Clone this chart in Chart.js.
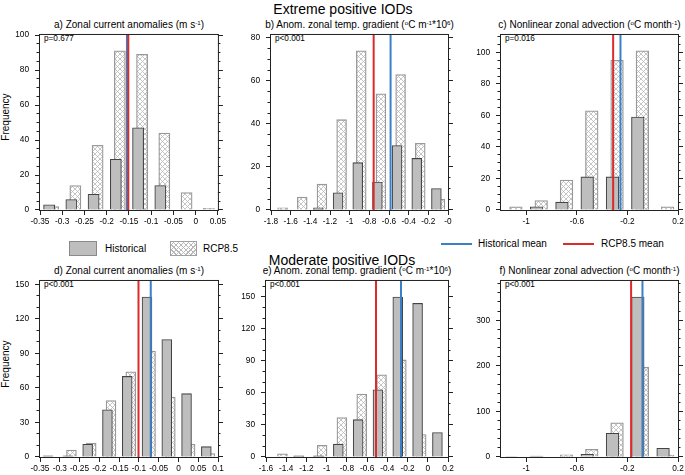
<!DOCTYPE html>
<html><head><meta charset="utf-8">
<script src="https://cdn.jsdelivr.net/npm/chart.js@4.4.0/dist/chart.umd.min.js"></script>
<style>
body{margin:0;background:#fff;width:685px;height:475px;position:relative;overflow:hidden;font-family:"Liberation Sans",Arial,Helvetica,sans-serif;color:#000}
.abs{position:absolute;white-space:nowrap}
canvas{position:absolute}
sup{font-size:0.62em;line-height:0;vertical-align:0.55em}
.ttl{font-size:10px;line-height:12px;text-align:center}
.pv{font-size:8.2px;line-height:10px}
.leg{font-size:10px;line-height:12px}
.big{font-size:14px;line-height:16px;text-align:center;width:300px}
.freq{font-size:10px;line-height:10px;width:80px;text-align:center;transform:rotate(-90deg)}
.hatchbox{background-color:#fff;background-image:repeating-linear-gradient(45deg,#b8b8b8 0 0.8px,transparent 0.8px 3.5px),repeating-linear-gradient(-45deg,#b8b8b8 0 0.8px,transparent 0.8px 3.5px);border:1px solid #a0a0a0;box-sizing:border-box}
</style></head><body>

<div class="abs big" style="left:193px;top:0.5px">Extreme positive IODs</div>
<div class="abs big" style="left:192px;top:252px">Moderate positive IODs</div>

<div class="abs" style="left:69px;top:241px;width:28px;height:15px;background:#bebebe;border:1px solid #8a8a8a;box-sizing:border-box"></div>
<div class="abs leg" style="left:105px;top:242.5px">Historical</div>
<div class="abs hatchbox" style="left:170px;top:241px;width:27px;height:15px"></div>
<div class="abs leg" style="left:203px;top:242.5px">RCP8.5</div>
<div class="abs" style="left:441px;top:243px;width:31px;height:2px;background:#3a80c8"></div>
<div class="abs leg" style="left:478px;top:237.5px">Historical mean</div>
<div class="abs" style="left:563px;top:243px;width:31px;height:2px;background:#dd2a2a"></div>
<div class="abs leg" style="left:601px;top:237.5px">RCP8.5 mean</div>

<div id="labels"></div>

<script>
// ---------- data ----------
// a) Zonal current anomalies, extreme pIOD
const binsA = [-0.325, -0.275, -0.225, -0.175, -0.125, -0.075, -0.025, 0.025];
const histA = [3, 6, 9, 29, 47, 14, 0, 0];
const rcpA  = [2, 14, 37, 91, 89, 44, 10, 1];
const meanHistA = -0.1545, meanRcpA = -0.1515;
const xTickLabelsA = ['-0.35','-0.3','-0.25','-0.2','-0.15','-0.1','-0.05','0','0.05'];
const yTicksA = [0, 20, 40, 60, 80, 100];

// b) Anom. zonal temp. gradient, extreme pIOD
const binsB = [-1.7, -1.5, -1.3, -1.1, -0.9, -0.7, -0.5, -0.3, -0.1];
const histB = [0, 0, 1, 8, 22, 13, 30, 24, 10];
const rcpB  = [1, 6, 12, 42, 74, 54, 63, 31, 5];
const meanHistB = -0.584, meanRcpB = -0.756;
const xTickLabelsB = ['-1.8','-1.6','-1.4','-1.2','-1','-0.8','-0.6','-0.4','-0.2','-0'];
const yTicksB = [0, 20, 40, 60, 80];

// c) Nonlinear zonal advection, extreme pIOD
const binsC = [-1.1, -0.9, -0.7, -0.5, -0.3, -0.1, 0.1];
const histC = [0, 2, 5, 21, 21, 59, 0];
const rcpC  = [2, 6, 19, 63, 95, 101, 2];
const meanHistC = -0.255, meanRcpC = -0.313;
const xTickLabelsC = ['-1','-0.6','-0.2','0.2'];
const yTicksC = [0, 20, 40, 60, 80, 100];

// d) Zonal current anomalies, moderate pIOD
const binsD = [-0.325, -0.275, -0.225, -0.175, -0.125, -0.075, -0.025, 0.025, 0.075];
const histD = [1, 1, 11, 41, 70, 139, 102, 55, 9];
const rcpD  = [0, 6, 12, 49, 74, 92, 52, 11, 3];
const meanHistD = -0.070, meanRcpD = -0.101;
const xTickLabelsD = ['-0.35','-0.3','-0.25','-0.2','-0.15','-0.1','-0.05','0','0.05','0.1'];
const yTicksD = [0, 30, 60, 90, 120, 150];

// e) Anom. zonal temp. gradient, moderate pIOD
const binsE = [-1.455, -1.259, -1.063, -0.867, -0.671, -0.475, -0.279, -0.083, 0.113];
const histE = [0, 1, 1, 12, 35, 63, 150, 144, 23];
const rcpE  = [3, 0, 11, 37, 59, 77, 91, 21, 0];
const meanHistE = -0.265, meanRcpE = -0.512;
const xTickLabelsE = ['-1.6','-1.4','-1.2','-1','-0.8','-0.6','-0.4','-0.2','0','0.2'];
const yTicksE = [0, 30, 60, 90, 120, 150];

// f) Nonlinear zonal advection, moderate pIOD
const binsF = [-1.1, -0.9, -0.7, -0.5, -0.3, -0.1, 0.1];
const histF = [1, 2, 0, 6, 52, 351, 19];
const rcpF  = [0, 0, 5, 17, 75, 197, 4];
const meanHistF = -0.081, meanRcpF = -0.171;
const xTickLabelsF = ['-1','-0.6','-0.2','0.2'];
const yTicksF = [0, 100, 200, 300];

// ---------- layout / style ----------
const BLUE = '#3a80c8', RED = '#dd2a2a';
const FONT = '"Liberation Sans", Arial, sans-serif';
const TICKFONT = 8.3;

const panels = [
  {box:[40,32,218,210],  xr:[-0.35,0.05], bin:0.05, bins:binsA, hist:histA, rcp:rcpA, mH:meanHistA, mR:meanRcpA, xl:xTickLabelsA, yt:yTicksA, minor:5,
   p:'p=0.677', title:'a) Zonal current anomalies (m s<sup>-1</sup>)', freq:true},
  {box:[271,32,448,210], xr:[-1.8,0], bin:0.2, bins:binsB, hist:histB, rcp:rcpB, mH:meanHistB, mR:meanRcpB, xl:xTickLabelsB, yt:yTicksB, minor:5,
   p:'p&lt;0.001', title:'b) Anom. zonal temp. gradient (<sup>o</sup>C m<sup>-1</sup>*10<sup>6</sup>)'},
  {box:[501,32,678,210], xr:[-1.2,0.2], bin:0.2, bins:binsC, hist:histC, rcp:rcpC, mH:meanHistC, mR:meanRcpC, xl:xTickLabelsC, yt:yTicksC, minor:5,
   p:'p=0.016', title:'c) Nonlinear zonal advection (<sup>o</sup>C month<sup>-1</sup>)'},
  {box:[40,278,218,457], xr:[-0.35,0.1], bin:0.05, bins:binsD, hist:histD, rcp:rcpD, mH:meanHistD, mR:meanRcpD, xl:xTickLabelsD, yt:yTicksD, minor:10,
   p:'p&lt;0.001', title:'d) Zonal current anomalies (m s<sup>-1</sup>)', freq:true},
  {box:[266,278,448,457], xr:[-1.6,0.2], bin:0.196, bins:binsE, hist:histE, rcp:rcpE, mH:meanHistE, mR:meanRcpE, xl:xTickLabelsE, yt:yTicksE, minor:10,
   p:'p&lt;0.001', title:'e) Anom. zonal temp. gradient (<sup>o</sup>C m<sup>-1</sup>*10<sup>6</sup>)'},
  {box:[501,278,678,457], xr:[-1.2,0.2], bin:0.2, bins:binsF, hist:histF, rcp:rcpF, mH:meanHistF, mR:meanRcpF, xl:xTickLabelsF, yt:yTicksF, minor:20,
   p:'p&lt;0.001', title:'f) Nonlinear zonal advection (<sup>o</sup>C month<sup>-1</sup>)'}
];

function makeHatch(){
  const t = document.createElement('canvas'); t.width = t.height = 5;
  const g = t.getContext('2d');
  g.fillStyle = '#fff'; g.fillRect(0,0,5,5);
  g.strokeStyle = '#b8b8b8'; g.lineWidth = 0.8;
  g.beginPath();
  g.moveTo(-1,-1); g.lineTo(6,6);
  g.moveTo(6,-1); g.lineTo(-1,6);
  g.stroke();
  return document.createElement('canvas').getContext('2d').createPattern(t,'repeat');
}
const HATCH = makeHatch();

function align(v){ return Math.round(v - 0.5) + 0.5; }

const framePlugin = {
  id: 'frame',
  afterDraw(chart){
    const {ctx, chartArea:a, scales} = chart;
    const o = chart.options.plugins.frame;
    const ys = scales.y;
    ctx.save();
    ctx.strokeStyle = '#222'; ctx.lineWidth = 1;
    ctx.strokeRect(a.left - 0.5, a.top - 0.5, a.right - a.left + 1, a.bottom - a.top + 1);
    ctx.beginPath();
    for (let k = 0; k * o.minor <= ys.max + 1e-9; k++) {
      const v = k * o.minor;
      const y = align(ys.getPixelForValue(v));
      const major = o.majors.some(m => Math.abs(m - v) < 1e-9);
      const len = major ? 5 : 2.5;
      if (!major) { ctx.moveTo(a.left - 1, y); ctx.lineTo(a.left - 1 - len, y); }
      ctx.moveTo(a.right, y); ctx.lineTo(a.right + len, y);
    }
    ctx.stroke();
    ctx.restore();
  }
};

const labels = document.getElementById('labels');
panels.forEach(P => {
  const [l, t, r, b] = P.box;
  const W = r - l, H = b - t;
  const PADL = 40, PADR = 10, PADT = 8, PADB = 25;
  const cv = document.createElement('canvas');
  cv.width = W + PADL + PADR; cv.height = H + PADT + PADB;
  cv.style.left = (l - PADL) + 'px'; cv.style.top = (t - PADT) + 'px';
  document.body.appendChild(cv);

  const ymax = 1.1 * Math.max(...P.hist, ...P.rcp);
  const pxPerUnit = W / (P.xr[1] - P.xr[0]);
  const thick = P.bin * 0.5 * pxPerUnit;
  const off = 0.09 * P.bin;
  const xVals = P.xl.map(s => parseFloat(s));

  new Chart(cv, {
    type: 'bar',
    data: { datasets: [
      {type:'line', label:'RCP8.5 mean', data:[{x:P.mR,y:0},{x:P.mR,y:ymax}], borderColor:RED, borderWidth:2, pointRadius:0, order:-2},
      {type:'line', label:'Historical mean', data:[{x:P.mH,y:0},{x:P.mH,y:ymax}], borderColor:BLUE, borderWidth:2, pointRadius:0, order:-1},
      {type:'bar', label:'Historical', data:P.bins.map((c,i)=>({x:c-off, y:P.hist[i]})), backgroundColor:'#bebebe', borderColor:'#444', borderWidth:1.1, barThickness:thick, grouped:false, order:0},
      {type:'bar', label:'RCP8.5', data:P.bins.map((c,i)=>({x:c+off, y:P.rcp[i]})), backgroundColor:HATCH, borderColor:'#999', borderWidth:1.3, barThickness:thick, grouped:false, order:1}
    ]},
    options: {
      responsive:false, animation:false, devicePixelRatio:1,
      layout:{padding:{left:0, right:PADR, top:PADT, bottom:0}},
      plugins:{legend:{display:false}, tooltip:{enabled:false}, title:{display:false},
               frame:{minor:P.minor, majors:P.yt}},
      scales:{
        x:{type:'linear', min:P.xr[0], max:P.xr[1], offset:false,
           afterBuildTicks: s => { s.ticks = xVals.map(v => ({value:v})); },
           afterFit: s => { s.height = PADB; },
           ticks:{callback:(v,i)=>P.xl[i], font:{family:FONT, size:TICKFONT}, color:'#000', padding:2, maxRotation:0, autoSkip:false},
           grid:{offset:false, drawOnChartArea:false, drawTicks:true, tickLength:5, tickColor:'#222', color:'#222'},
           border:{display:false}},
        y:{type:'linear', min:0, max:ymax,
           afterBuildTicks: s => { s.ticks = P.yt.map(v => ({value:v})); },
           afterFit: s => { s.width = PADL; },
           ticks:{font:{family:FONT, size:TICKFONT}, color:'#000', padding:6, autoSkip:false, includeBounds:false},
           grid:{drawOnChartArea:false, drawTicks:true, tickLength:5, tickColor:'#222', color:'#222'},
           border:{display:false}}
      }
    },
    plugins:[framePlugin]
  });

  const tt = document.createElement('div');
  tt.className = 'abs ttl';
  tt.style.left = (l - 40) + 'px'; tt.style.width = (W + 80) + 'px';
  tt.style.top = (t - 13) + 'px';
  tt.innerHTML = P.title;
  labels.appendChild(tt);

  const pv = document.createElement('div');
  pv.className = 'abs pv';
  pv.style.left = (l + 4) + 'px'; pv.style.top = (t + 1.8) + 'px';
  pv.innerHTML = P.p;
  labels.appendChild(pv);

  if (P.freq) {
    const f = document.createElement('div');
    f.className = 'abs freq';
    f.style.left = (6 - 40) + 'px'; f.style.top = ((t + b) / 2 - 4 - 5) + 'px';
    f.textContent = 'Frequency';
    labels.appendChild(f);
  }
});
</script>
</body></html>
